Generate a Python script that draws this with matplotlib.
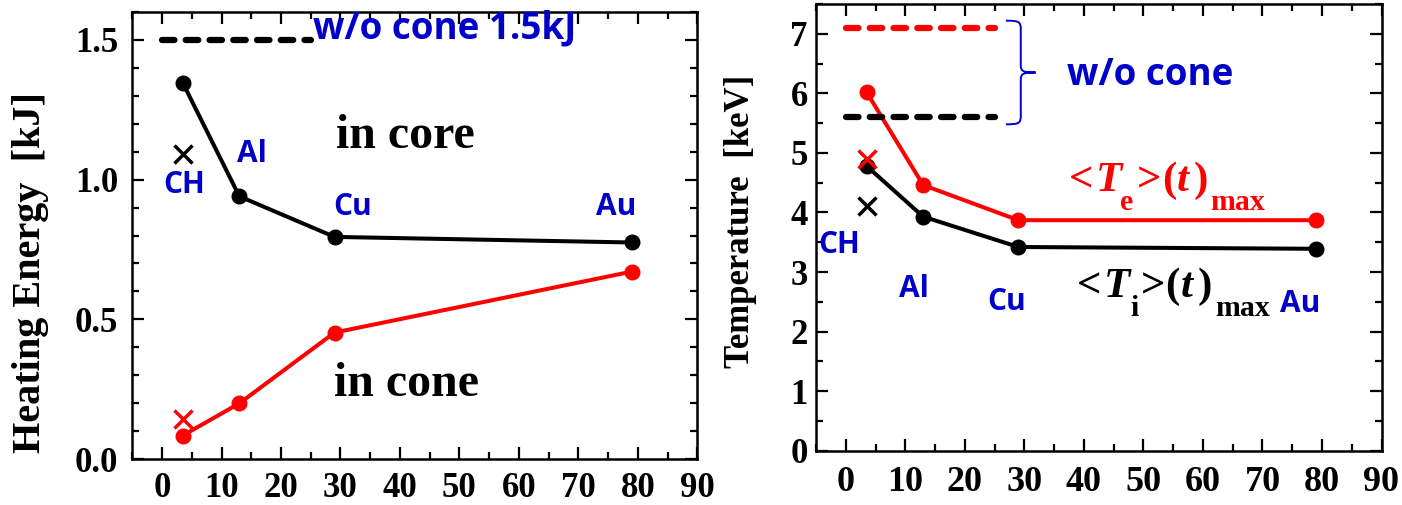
import matplotlib
matplotlib.use("Agg")
import matplotlib.pyplot as plt
from matplotlib.path import Path
from matplotlib.patches import PathPatch
from matplotlib.ticker import MultipleLocator, FormatStrFormatter

# ---- data -------------------------------------------------------------
elements = ["CH", "Al", "Cu", "Au"]
atomic_number = [3.5, 13, 29, 79]

energy_core = [1.345, 0.94, 0.795, 0.775]      # kJ deposited in core
energy_cone = [0.085, 0.20, 0.453, 0.671]      # kJ deposited in cone
energy_core_x = 1.09                           # CH cross markers
energy_cone_x = 0.145
energy_no_cone = 1.5

temp_e = [6.02, 4.46, 3.87, 3.87]              # <Te>(t)max  keV
temp_i = [4.78, 3.93, 3.42, 3.39]              # <Ti>(t)max  keV
temp_e_x = 4.90
temp_i_x = 4.11
temp_e_no_cone = 7.1
temp_i_no_cone = 5.6

# ---- style ------------------------------------------------------------
SERIF = "Liberation Serif"
SANS = "Open Sans"
BLUE = "#0000C8"
RED = "#FF0000"

W, H = 1402, 505
fig = plt.figure(figsize=(W / 100, H / 100), dpi=100)


def rect(x0, y0, x1, y1):
    return [x0 / W, 1 - y1 / H, (x1 - x0) / W, (y1 - y0) / H]


ax1 = fig.add_axes(rect(132.3, 11.7, 697.3, 459.3))
ax2 = fig.add_axes(rect(816.0, 4.0, 1381.5, 450.7))


def style_axes(ax, xpad, xsize, ypad):
    for s in ax.spines.values():
        s.set_linewidth(1.8)
    ax.tick_params(which="both", direction="in", top=True, right=True,
                   width=1.6)
    ax.tick_params(which="major", length=8.5)
    ax.tick_params(which="minor", length=5)
    ax.tick_params(axis="x", which="major", pad=xpad, labelsize=xsize)
    ax.tick_params(axis="y", which="major", pad=ypad, labelsize=25)
    ax.xaxis.set_major_locator(MultipleLocator(10))
    ax.xaxis.set_minor_locator(MultipleLocator(5))
    ax.set_xlim(-5, 90)
    for lab in ax.get_xticklabels() + ax.get_yticklabels():
        lab.set_fontfamily(SERIF)
        lab.set_fontweight("bold")


def composite_label(ax, x, y, pieces, color):
    """Lay out a label from (text, offset_pt, italic, subscript) pieces."""
    for txt, dx, italic, sub in pieces:
        ax.annotate(txt, xy=(x, y), xytext=(dx, -13.5 if sub else 0),
                    textcoords="offset points", xycoords="data",
                    family=SERIF, weight="bold",
                    style="italic" if italic else "normal",
                    fontsize=21.5 if sub else 31, color=color,
                    ha="left", va="baseline")


line_kw = dict(lw=2.9, marker="o", ms=10.5)
cross_kw = dict(marker="x", ms=12.5, mew=2.5, ls="none")
dash_kw = dict(lw=4.5, dashes=(2.0, 1.8), dash_capstyle="round")
label_kw = dict(family=SANS, weight="bold", color=BLUE, fontsize=21.5,
                ha="center", va="baseline")

# ---- left panel: heating energy --------------------------------------
ax1.plot(atomic_number, energy_core, color="black", **line_kw)
ax1.plot(atomic_number, energy_cone, color=RED, **line_kw)
ax1.plot([atomic_number[0]], [energy_core_x], color="black", **cross_kw)
ax1.plot([atomic_number[0]], [energy_cone_x], color=RED, **cross_kw)
ax1.plot([0, 25], [energy_no_cone, energy_no_cone], color="black", **dash_kw)

ax1.set_ylim(0, 1.6)
ax1.yaxis.set_major_locator(MultipleLocator(0.5))
ax1.yaxis.set_minor_locator(MultipleLocator(0.1))
ax1.yaxis.set_major_formatter(FormatStrFormatter("%.1f"))
style_axes(ax1, xpad=9, xsize=25, ypad=10)

ax1.text(25.3, 1.505, "w/o cone 1.5kJ", family=SANS, weight="bold",
         color=BLUE, fontsize=26.5, ha="left", va="baseline")
ax1.text(29.2, 1.113, "in core", family=SERIF, weight="bold",
         fontsize=34.5, ha="left", va="baseline")
ax1.text(28.9, 0.227, "in cone", family=SERIF, weight="bold",
         fontsize=34.5, ha="left", va="baseline")
left_label_pos = [(3.8, 0.952), (15.1, 1.063), (32.1, 0.874), (76.4, 0.874)]
for name, (x, y) in zip(elements, left_label_pos):
    ax1.text(x, y, name, **label_kw)

ax1.set_ylabel("Heating Energy  [kJ]", family=SERIF, weight="bold",
               fontsize=29)
ax1.yaxis.label.set_va("center")
ax1.yaxis.set_label_coords(-0.181, 0.418)

# ---- right panel: temperature ----------------------------------------
ax2.plot(atomic_number, temp_i, color="black", **line_kw)
ax2.plot(atomic_number, temp_e, color=RED, **line_kw)
ax2.plot([atomic_number[0]], [temp_i_x], color="black", **cross_kw)
ax2.plot([atomic_number[0]], [temp_e_x], color=RED, **cross_kw)
ax2.plot([0, 25], [temp_e_no_cone, temp_e_no_cone], color=RED, **dash_kw)
ax2.plot([0, 25], [temp_i_no_cone, temp_i_no_cone], color="black", **dash_kw)

ax2.set_ylim(0, 7.5)
ax2.yaxis.set_major_locator(MultipleLocator(1))
ax2.yaxis.set_minor_locator(MultipleLocator(0.5))
style_axes(ax2, xpad=11, xsize=26, ypad=6)

# curly brace grouping the two no-cone levels
xl, xs, xt = 26.9, 29.4, 31.9
yt, ym, yb = 7.22, 6.35, 5.48
brace = Path(
    [(xl, yt), (xs - 0.2, yt), (xs, yt - 0.02), (xs, yt - 0.15),
     (xs, ym + 0.12),
     (xs, ym + 0.02), (xs + 0.4, ym), (xt, ym),
     (xs + 0.4, ym), (xs, ym - 0.02), (xs, ym - 0.12),
     (xs, yb + 0.15),
     (xs, yb + 0.02), (xs - 0.2, yb), (xl, yb)],
    [Path.MOVETO, Path.CURVE4, Path.CURVE4, Path.CURVE4,
     Path.LINETO,
     Path.CURVE4, Path.CURVE4, Path.CURVE4,
     Path.CURVE4, Path.CURVE4, Path.CURVE4,
     Path.LINETO,
     Path.CURVE4, Path.CURVE4, Path.CURVE4])
ax2.add_patch(PathPatch(brace, fill=False, edgecolor=BLUE, lw=1.4))

ax2.text(37.2, 6.14, "w/o cone", family=SANS, weight="bold",
         color=BLUE, fontsize=26.5, ha="left", va="baseline")

# <T_e>(t)_max and <T_i>(t)_max, offsets in points from the start
composite_label(ax2, 37.5, 4.36,
                [("<", 0, False, False), ("T", 19.5, True, False),
                 ("e", 36.5, False, True), (">", 49, False, False),
                 ("(", 67, False, False), ("t", 77.5, True, False),
                 (")", 90, False, False), ("max", 102, False, True)],
                RED)
composite_label(ax2, 38.9, 2.58,
                [("<", 0, False, False), ("T", 19, True, False),
                 ("i", 38, False, True), (">", 45.5, False, False),
                 ("(", 63.5, False, False), ("t", 74.5, True, False),
                 (")", 86.5, False, False), ("max", 99.5, False, True)],
                "black")

right_label_pos = [(-1.06, 3.32), (11.5, 2.58), (27.0, 2.36), (76.4, 2.33)]
for name, (x, y) in zip(elements, right_label_pos):
    ax2.text(x, y, name, **label_kw)

ax2.set_ylabel("Temperature  [keV]", family=SERIF, weight="bold",
               fontsize=25)
ax2.yaxis.label.set_va("center")
ax2.yaxis.set_label_coords(-0.134, 0.514)

fig.savefig("out.png", dpi=100)
